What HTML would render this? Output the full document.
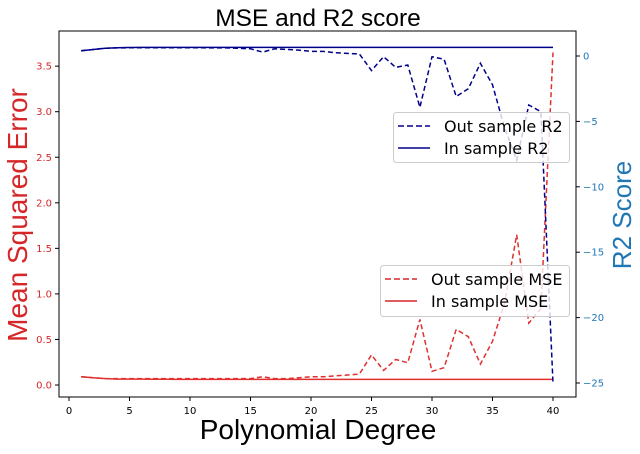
<!DOCTYPE html>
<html><head><meta charset="utf-8"><style>
body{margin:0;background:#fff;}
svg text{font-family:"DejaVu Sans","Liberation Sans",sans-serif;}
svg text.big{font-family:"Liberation Sans","DejaVu Sans",sans-serif;}
</style></head><body>
<svg id="chart" width="640" height="449" xmlns="http://www.w3.org/2000/svg">
<rect width="640" height="449" fill="#fff"/>
<text class="big" x="318" y="26" font-size="24.5" text-anchor="middle">MSE and R2 score</text>
<text class="big" x="318" y="439" font-size="28" text-anchor="middle">Polynomial Degree</text>
<text class="big" transform="translate(27,215) rotate(-90)" font-size="28" fill="#d62728" text-anchor="middle">Mean Squared Error</text>
<text class="big" transform="translate(631,215) rotate(-90)" font-size="26" fill="#1f77b4" text-anchor="middle">R2 Score</text>
<g id="ticks"></g>
<g id="series"></g>
<rect x="59" y="31" width="517" height="366" fill="none" stroke="#000" stroke-width="1"/>
<g>
<rect x="393.5" y="112.5" width="176" height="50" rx="3" fill="#fff" fill-opacity="0.8" stroke="#ccc"/>
<line x1="398" y1="126" x2="430" y2="126" stroke="#00008b" stroke-width="1.5" stroke-dasharray="6,3"/>
<text x="444" y="132" font-size="16">Out sample R2</text>
<line x1="398" y1="148" x2="430" y2="148" stroke="#00008b" stroke-width="1.5"/>
<text x="444" y="154" font-size="16">In sample R2</text>
</g>
<g>
<rect x="380.5" y="265.5" width="189" height="51" rx="3" fill="#fff" fill-opacity="0.8" stroke="#ccc"/>
<line x1="385" y1="279" x2="417" y2="279" stroke="#d62728" stroke-width="1.5" stroke-dasharray="6,3"/>
<text x="431" y="285" font-size="16">Out sample MSE</text>
<line x1="385" y1="301" x2="417" y2="301" stroke="#d62728" stroke-width="1.5"/>
<text x="431" y="307" font-size="16">In sample MSE</text>
</g>
</svg>
<script>
const degrees=[1,2,3,4,5,6,7,8,9,10,11,12,13,14,15,16,17,18,19,20,21,22,23,24,25,26,27,28,29,30,31,32,33,34,35,36,37,38,39,40];
const outMSE=[0.09,0.08,0.07,0.07,0.07,0.07,0.07,0.07,0.07,0.07,0.07,0.07,0.07,0.07,0.07,0.09,0.07,0.07,0.08,0.09,0.09,0.1,0.11,0.12,0.33,0.16,0.28,0.245,0.72,0.15,0.19,0.61,0.53,0.23,0.48,0.9,1.65,0.68,0.84,3.65];
const inMSE=[0.09,0.08,0.07,0.065,0.065,0.065,0.063,0.063,0.062,0.062,0.062,0.062,0.062,0.062,0.062,0.062,0.062,0.062,0.062,0.062,0.062,0.062,0.062,0.062,0.062,0.062,0.062,0.062,0.062,0.062,0.062,0.062,0.062,0.062,0.062,0.062,0.062,0.062,0.062,0.062];
const outR2=[0.4,0.5,0.6,0.62,0.63,0.63,0.63,0.63,0.63,0.63,0.63,0.62,0.62,0.6,0.55,0.3,0.55,0.5,0.45,0.35,0.35,0.25,0.2,0.15,-1.12,-0.05,-0.87,-0.69,-3.92,-0.05,-0.25,-3.1,-2.5,-0.56,-2.2,-5.5,-7.95,-3.75,-4.26,-25];
const inR2=[0.4,0.5,0.6,0.63,0.65,0.66,0.66,0.66,0.66,0.66,0.66,0.66,0.66,0.66,0.66,0.66,0.66,0.66,0.66,0.66,0.66,0.66,0.66,0.66,0.66,0.66,0.66,0.66,0.66,0.66,0.66,0.66,0.66,0.66,0.66,0.66,0.66,0.66,0.66,0.66];
const xTicks=[0,5,10,15,20,25,30,35,40];
const leftTicks=[0,0.5,1,1.5,2,2.5,3,3.5];
const rightTicks=[0,-5,-10,-15,-20,-25];

const NS='http://www.w3.org/2000/svg';
const xS=v=>69+v*12.1;
const yL=v=>385-v*91.1;
const yR=v=>56-v*13.08;
function mk(tag,attrs,parent){const e=document.createElementNS(NS,tag);for(const k in attrs)e.setAttribute(k,attrs[k]);parent.appendChild(e);return e;}
const tg=document.getElementById('ticks');
xTicks.forEach(t=>{const x=xS(t);
 const l=mk('line',{x1:x,x2:x,y1:397,y2:401,stroke:'#000'},tg);
 
 
 const s=mk('text',{x:x,y:414,'font-size':10,'text-anchor':'middle'},tg);s.textContent=t;
 
 
});
leftTicks.forEach(t=>{const y=yL(t);
 const l=mk('line',{x1:55,x2:59,y1:y,y2:y,stroke:'#000'},tg);
 
 
 const s=mk('text',{x:52,y:y+3.5,'font-size':10,'text-anchor':'end',fill:'#d62728'},tg);s.textContent=t.toFixed(1);
 
 
});
rightTicks.forEach(t=>{const y=yR(t);
 const l=mk('line',{x1:576,x2:580,y1:y,y2:y,stroke:'#000'},tg);
 
 
 const s=mk('text',{x:583,y:y+3.5,'font-size':10,fill:'#1f77b4'},tg);s.textContent=t<0?'\u2212'+(-t):t;
 
 
});
const sg=document.getElementById('series');
function line(vals,ys,color,dash,name){
 const p=vals.map((v,i)=>xS(degrees[i]).toFixed(1)+','+ys(v).toFixed(1)).join(' ');
 const e=mk('polyline',{points:p,fill:'none',stroke:color,'stroke-width':1.5,'stroke-dasharray':dash},sg);
 
 
}
line(inMSE,yL,'#e03030','none','in-sample-mse-line');
line(outMSE,yL,'#e03030','5,3','out-sample-mse-line');
line(inR2,yR,'#00008b','none','in-sample-r2-line');
line(outR2,yR,'#00008b','5,3','out-sample-r2-line');
</script>
</body></html>
